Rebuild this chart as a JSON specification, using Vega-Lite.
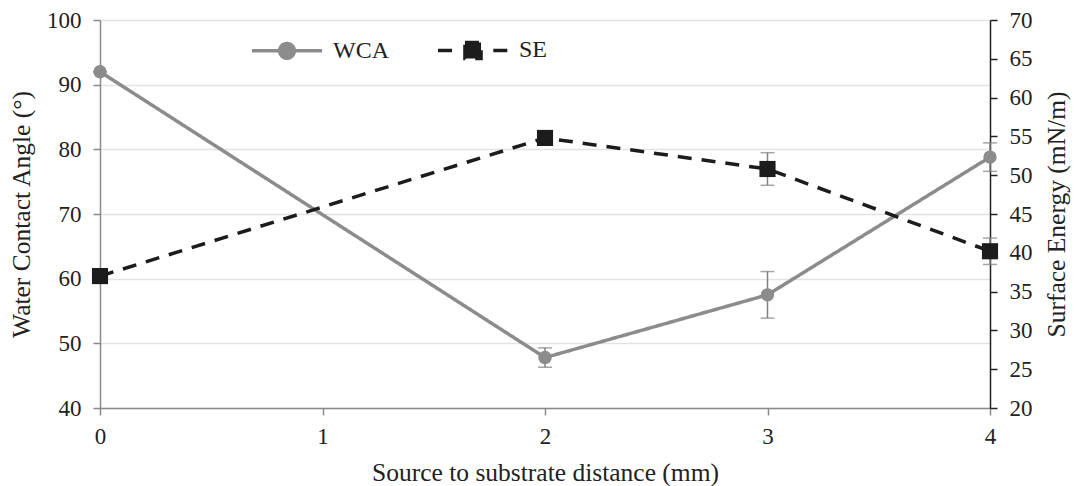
{
  "$schema": "https://vega.github.io/schema/vega-lite/v6.json",
  "width": 890,
  "height": 388,
  "autosize": {"type": "none"},
  "padding": {"left": 100, "top": 20, "right": 88, "bottom": 78},
  "background": "white",
  "config": {
    "font": "Liberation Serif, Times New Roman, DejaVu Serif, serif",
    "view": {"stroke": null},
    "axis": {"labelFont": "Liberation Serif, Times New Roman, DejaVu Serif, serif", "titleFont": "Liberation Serif, Times New Roman, DejaVu Serif, serif", "labelFontSize": 23, "titleFontSize": 25.5, "titleFontWeight": "normal", "labelColor": "#222", "titleColor": "#222"},
    "legend": {"labelFont": "Liberation Serif, Times New Roman, DejaVu Serif, serif", "labelFontSize": 24, "labelColor": "#222"}
  },
  "data": {
    "values": [
      {"x": 0, "series": "WCA", "value": 92.0, "lo": 92.0, "hi": 92.0},
      {"x": 2, "series": "WCA", "value": 47.8, "lo": 46.3, "hi": 49.3},
      {"x": 3, "series": "WCA", "value": 57.5, "lo": 53.9, "hi": 61.1},
      {"x": 4, "series": "WCA", "value": 78.8, "lo": 76.6, "hi": 81.0},
      {"x": 0, "series": "SE", "value": 37.0, "lo": 37.0, "hi": 37.0},
      {"x": 2, "series": "SE", "value": 54.8, "lo": 54.8, "hi": 54.8},
      {"x": 3, "series": "SE", "value": 50.8, "lo": 48.7, "hi": 52.9},
      {"x": 4, "series": "SE", "value": 40.2, "lo": 38.5, "hi": 41.9}
    ]
  },
  "encoding": {
    "x": {
      "field": "x", "type": "quantitative",
      "scale": {"domain": [0, 4], "nice": false, "zero": false},
      "axis": {"title": "Source to substrate distance (mm)", "values": [0, 1, 2, 3, 4], "format": "d", "labelFlush": false, "grid": false, "domainColor": "#8a8a8a", "domainWidth": 1.5, "tickColor": "#8a8a8a", "tickSize": 7, "tickWidth": 1.5, "labelPadding": 10, "titlePadding": 12}
    }
  },
  "layer": [
    {
      "transform": [{"filter": "datum.series === 'WCA'"}],
      "encoding": {
        "y": {
          "field": "value", "type": "quantitative",
          "scale": {"domain": [40, 100], "nice": false, "zero": false},
          "axis": {"title": "Water Contact Angle (°)", "orient": "left", "values": [40, 50, 60, 70, 80, 90, 100], "grid": true, "gridColor": "#e3e3e3", "gridWidth": 1.5, "domainColor": "#8a8a8a", "domainWidth": 1.5, "tickColor": "#8a8a8a", "tickSize": 7, "tickWidth": 1.5, "labelPadding": 12, "titlePadding": 12}
        }
      },
      "layer": [
        {
          "mark": {"type": "line", "strokeWidth": 3.5},
          "encoding": {
            "color": {"field": "series", "type": "nominal", "scale": {"domain": ["WCA", "SE"], "range": ["#8c8c8c", "#1c1c1c"]},
              "legend": {"title": null, "orient": "none", "legendX": 150, "legendY": -7, "direction": "horizontal", "symbolSize": 4900, "symbolStrokeWidth": 3.5, "columnPadding": 42, "labelOffset": 9,
                "encode": {"symbols": {"update": {
                  "shape": {"signal": "datum.value === 'WCA' ? 'M-1,0L1,0M0.21,0A0.21,0.21,0,1,1,-0.21,0A0.21,0.21,0,1,1,0.21,0Z' : 'M-1,0L-0.58,0M0.58,0L1,0M-0.23,-0.23L0.23,-0.23L0.23,0.23L-0.23,0.23Z'"},
                  "fill": {"signal": "datum.value === 'WCA' ? '#8c8c8c' : '#1c1c1c'"},
                  "fillOpacity": {"value": 1},
                  "strokeDash": {"value": [1, 0]}}}}}
            },
            "strokeDash": {"field": "series", "type": "nominal", "scale": {"domain": ["WCA", "SE"], "range": [[1, 0], [14, 10]]}, "legend": null}
          }
        },
        {
          "mark": {"type": "rule", "color": "#808080", "strokeWidth": 1.5},
          "encoding": {"y": {"field": "lo", "type": "quantitative"}, "y2": {"field": "hi"}}
        },
        {
          "mark": {"type": "tick", "orient": "horizontal", "color": "#808080", "size": 14, "thickness": 1.5},
          "encoding": {"y": {"field": "lo", "type": "quantitative"}}
        },
        {
          "mark": {"type": "tick", "orient": "horizontal", "color": "#808080", "size": 14, "thickness": 1.5},
          "encoding": {"y": {"field": "hi", "type": "quantitative"}}
        },
        {
          "mark": {"type": "point", "shape": "circle", "filled": true, "size": 180, "opacity": 1, "color": "#8c8c8c"}
        }
      ]
    },
    {
      "transform": [{"filter": "datum.series === 'SE'"}],
      "encoding": {
        "y": {
          "field": "value", "type": "quantitative",
          "scale": {"domain": [20, 70], "nice": false, "zero": false},
          "axis": {"title": "Surface Energy (mN/m)", "orient": "right", "titleAngle": 270, "titleBaseline": "top", "values": [20, 25, 30, 35, 40, 45, 50, 55, 60, 65, 70], "grid": false, "domainColor": "#222", "domainWidth": 1.5, "tickColor": "#222", "tickSize": 7, "tickWidth": 1.5, "labelPadding": 12, "titlePadding": 12}
        }
      },
      "layer": [
        {
          "mark": {"type": "line", "strokeWidth": 3.5},
          "encoding": {
            "color": {"field": "series", "type": "nominal"},
            "strokeDash": {"field": "series", "type": "nominal", "legend": null}
          }
        },
        {
          "mark": {"type": "rule", "color": "#808080", "strokeWidth": 1.5},
          "encoding": {"y": {"field": "lo", "type": "quantitative"}, "y2": {"field": "hi"}}
        },
        {
          "mark": {"type": "tick", "orient": "horizontal", "color": "#808080", "size": 14, "thickness": 1.5},
          "encoding": {"y": {"field": "lo", "type": "quantitative"}}
        },
        {
          "mark": {"type": "tick", "orient": "horizontal", "color": "#808080", "size": 14, "thickness": 1.5},
          "encoding": {"y": {"field": "hi", "type": "quantitative"}}
        },
        {
          "mark": {"type": "point", "shape": "square", "filled": true, "size": 260, "opacity": 1, "color": "#1c1c1c"}
        }
      ]
    }
  ],
  "resolve": {"scale": {"y": "independent"}}
}
